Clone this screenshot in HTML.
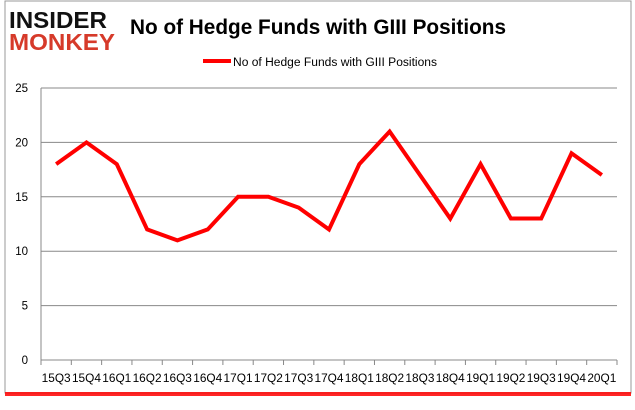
<!DOCTYPE html>
<html><head><meta charset="utf-8"><style>
html,body{margin:0;padding:0;background:#fff;}
body{width:635px;height:405px;overflow:hidden;font-family:"Liberation Sans",sans-serif;}
</style></head><body>
<svg width="635" height="405" xmlns="http://www.w3.org/2000/svg">
<rect x="5" y="1" width="626" height="392" fill="#fff" stroke="#999" stroke-width="1"/>
<rect x="5" y="392" width="626" height="4" fill="#f00" opacity="0.85"/>
<g font-weight="bold" font-family="'Liberation Sans',sans-serif">
<text x="9" y="28" font-size="23" fill="#111" textLength="98" lengthAdjust="spacingAndGlyphs">INSIDER</text>
<text x="9" y="50" font-size="23" fill="#d63a2a" textLength="106" lengthAdjust="spacingAndGlyphs">MONKEY</text>
</g>
<text x="130" y="34" font-size="21" font-weight="bold" fill="#000" textLength="376" lengthAdjust="spacingAndGlyphs">No of Hedge Funds with GIII Positions</text>
<g>
<line x1="203" y1="61" x2="231" y2="61" stroke="#f00" stroke-width="4"/>
<text x="233" y="66" font-size="11.5" fill="#000" textLength="204" lengthAdjust="spacingAndGlyphs">No of Hedge Funds with GIII Positions</text>
</g>
<g id="grid"></g><g id="axes"></g><g id="series"></g>
</svg>
<script>
const categories=["15Q3","15Q4","16Q1","16Q2","16Q3","16Q4","17Q1","17Q2","17Q3","17Q4","18Q1","18Q2","18Q3","18Q4","19Q1","19Q2","19Q3","19Q4","20Q1"];
const values=[18,20,18,12,11,12,15,15,14,12,18,21,17,13,18,13,13,19,17];
const yTicks=[0,5,10,15,20,25];
const NS="http://www.w3.org/2000/svg";
const L=41,R=617,T=88,B=360,YMAX=25;
const band=(R-L)/categories.length;
const x=i=>L+band*(i+0.5);
const y=v=>B-(v/YMAX)*(B-T);
function mk(tag,attrs,parent){const e=document.createElementNS(NS,tag);for(const k in attrs)e.setAttribute(k,attrs[k]);parent.appendChild(e);return e;}
const grid=document.getElementById('grid'),axes=document.getElementById('axes'),series=document.getElementById('series');
yTicks.forEach(t=>{
 const g=mk('line',{x1:L,x2:R,y1:y(t),y2:y(t),stroke:'#888','stroke-width':1},grid);
 
 
 const tx=mk('text',{x:L-13,y:y(t)+4,'font-size':11.5,'text-anchor':'end',fill:'#000'},axes);
 tx.textContent=t;
 
 
});
const ax=mk('line',{x1:L,x2:L,y1:T,y2:B,stroke:'#888'},axes);


for(let i=0;i<=categories.length;i++){
 const tk=mk('line',{x1:L+band*i,x2:L+band*i,y1:B,y2:B+5,stroke:'#888'},axes);
 
 
}
categories.forEach((c,i)=>{
 const tx=mk('text',{x:x(i),y:B+22,'font-size':11.5,'text-anchor':'middle',fill:'#000',textLength:29,lengthAdjust:'spacingAndGlyphs'},axes);
 tx.textContent=c;
 
 
});
const pts=values.map((v,i)=>x(i)+','+y(v)).join(' ');
const pl=mk('polyline',{points:pts,fill:'none',stroke:'#f00','stroke-width':4,'stroke-linejoin':'miter'},series);


</script>
</body></html>
